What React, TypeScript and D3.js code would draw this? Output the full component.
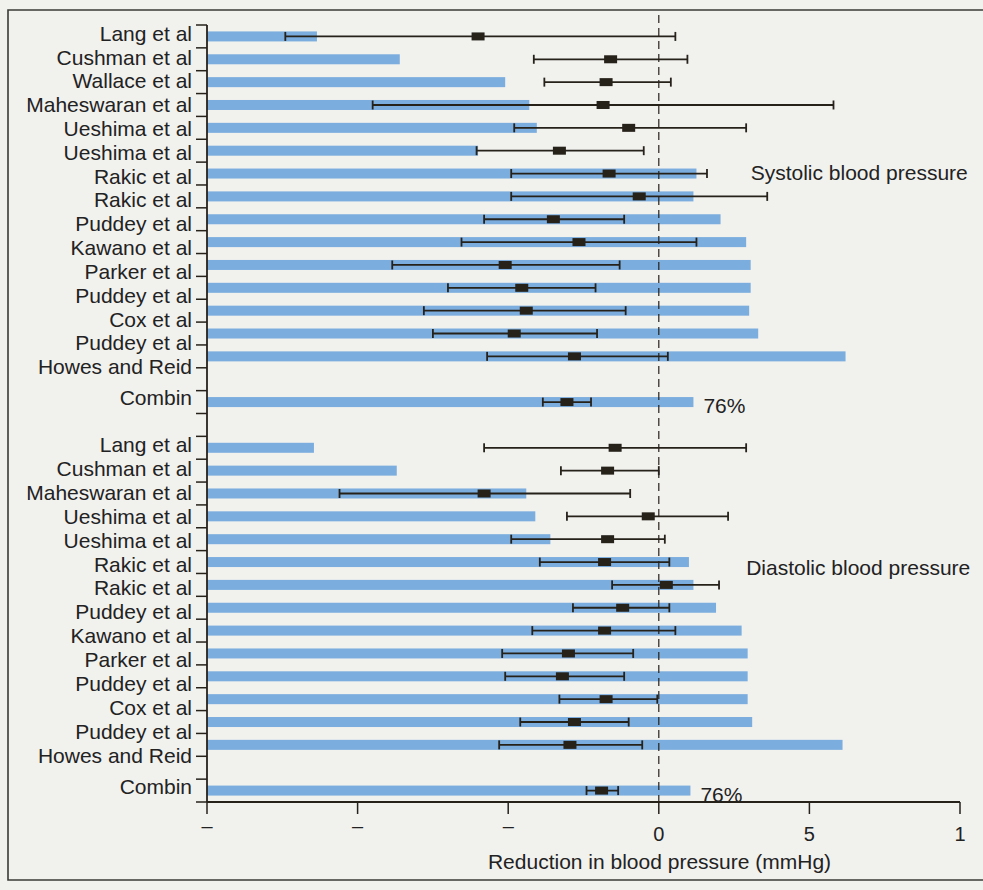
import React from "react";
import * as d3 from "d3";

// Study names per panel (the pooled estimate is appended as its own row)
const systolicStudies = [
  "Lang et al", "Cushman et al", "Wallace et al", "Maheswaran et al", "Ueshima et al",
  "Ueshima et al", "Rakic et al", "Rakic et al", "Puddey et al", "Kawano et al",
  "Parker et al", "Puddey et al", "Cox et al", "Puddey et al", "Howes and Reid",
];
const diastolicStudies = [
  "Lang et al", "Cushman et al", "Maheswaran et al", "Ueshima et al", "Ueshima et al",
  "Rakic et al", "Rakic et al", "Puddey et al", "Kawano et al", "Parker et al",
  "Puddey et al", "Cox et al", "Puddey et al", "Howes and Reid",
];
const combinedLabel = "Combin";
const combinedShare = "76%";

// Systolic: studies followed by the pooled row (mmHg)
const systolicLow = [-12.4, -4.15, -3.8, -9.5, -4.8, -6.05, -4.9, -4.9, -5.8, -6.55, -8.85, -7.0, -7.8, -7.5, -5.7, -3.85];
const systolicEst = [-6.0, -1.6, -1.75, -1.85, -1.0, -3.3, -1.65, -0.65, -3.5, -2.65, -5.1, -4.55, -4.4, -4.8, -2.8, -3.05];
const systolicHigh = [0.55, 0.95, 0.4, 5.8, 2.9, -0.5, 1.6, 3.6, -1.15, 1.25, -1.3, -2.1, -1.1, -2.05, 0.3, -2.25];
const systolicBar = [-11.35, -8.6, -5.1, -4.3, -4.05, -6.0, 1.25, 1.15, 2.05, 2.9, 3.05, 3.05, 3.0, 3.3, 6.2, 1.15];

// Diastolic: studies followed by the pooled row (mmHg)
const diastolicLow = [-5.8, -3.25, -10.6, -3.05, -4.9, -3.95, -1.55, -2.85, -4.2, -5.2, -5.1, -3.3, -4.6, -5.3, -2.4];
const diastolicEst = [-1.45, -1.7, -5.8, -0.35, -1.7, -1.8, 0.25, -1.2, -1.8, -3.0, -3.2, -1.75, -2.8, -2.95, -1.9];
const diastolicHigh = [2.9, 0.0, -0.95, 2.3, 0.2, 0.35, 2.0, 0.35, 0.55, -0.85, -1.15, -0.05, -1.0, -0.55, -1.35];
const diastolicBar = [-11.45, -8.7, -4.4, -4.1, -3.6, 1.0, 1.15, 1.9, 2.75, 2.95, 2.95, 2.95, 3.1, 6.1, 1.05];

const tickValues = [-15, -10, -5, 0, 5, 10];
const tickLabels = ["–", "–", "–", "0", "5", "1"];
const axisTitle = "Reduction in blood pressure (mmHg)";
const panelTitles = ["Systolic blood pressure", "Diastolic blood pressure"];

const W = 983;
const H = 890;
const FONT = "'Liberation Sans', Arial, Helvetica, sans-serif";
const BLUE = "#7badde";
const INK = "#26221a";

type Row = { name: string; slot: number; low: number; est: number; high: number; bar: number; pooled: boolean; idx: number; n: number };

function buildRows(names: string[], low: number[], est: number[], high: number[], bar: number[], firstSlot: number): Row[] {
  const n = names.length;
  const rows: Row[] = names.map((name, i) => ({
    name, slot: firstSlot + i, low: low[i], est: est[i], high: high[i], bar: bar[i], pooled: false, idx: i, n,
  }));
  rows.push({
    name: combinedLabel, slot: firstSlot + n + 1, low: low[n], est: est[n], high: high[n], bar: bar[n], pooled: true, idx: n, n,
  });
  return rows;
}

export default function App() {
  const x = d3.scaleLinear().domain([-15, 10]).range([207, 960]);
  const slots = d3.range(34);
  const y = d3.scaleBand<number>().domain(slots).range([25, 802]);
  const step = y.step();
  const cy = (s: number) => (y(s) ?? 0) + step / 2;

  const sys = buildRows(systolicStudies, systolicLow, systolicEst, systolicHigh, systolicBar, 0);
  const dia = buildRows(diastolicStudies, diastolicLow, diastolicEst, diastolicHigh, diastolicBar, 18);
  const rows = [...sys, ...dia];

  // labels sit slightly off the row centres, drifting downward through each block
  const drift = (r: Row) =>
    r.pooled ? -4 : d3.scaleLinear().domain([0, r.n - 1]).range([-3, 10.5])(r.idx);

  const x0 = x(-15);
  const axisY = 802;
  const barH = 10;
  const capH = 9;
  const mW = 13;
  const mH = 8;

  return (
    <div style={{ position: "absolute", left: 0, top: 0 }}>
      <svg width={W} height={H} style={{ display: "block", fontFamily: FONT }}>
        <rect x={0} y={0} width={W} height={H} fill="#f1f1ee" />
        {/* page frame */}
        <path d={`M${W},10 L8,10 L8,880 L${W},880`} fill="none" stroke="#3a3a36" strokeWidth={1.6} />

        {/* blue bars */}
        {rows.map((r, i) => (
          <rect key={"b" + i} x={x0} y={cy(r.slot) - barH / 2} width={x(r.bar) - x0} height={barH} fill={BLUE} />
        ))}

        {/* line of no effect */}
        <line x1={x(0)} x2={x(0)} y1={15} y2={808} stroke={INK} strokeWidth={1.2} strokeDasharray="8,5" />

        {/* confidence intervals and point estimates */}
        {rows.map((r, i) => {
          const c = cy(r.slot);
          return (
            <g key={"ci" + i} stroke={INK} strokeWidth={1.8}>
              <line x1={x(r.low)} x2={x(r.high)} y1={c} y2={c} />
              <line x1={x(r.low)} x2={x(r.low)} y1={c - capH / 2} y2={c + capH / 2} />
              <line x1={x(r.high)} x2={x(r.high)} y1={c - capH / 2} y2={c + capH / 2} />
              <rect x={x(r.est) - mW / 2} y={c - mH / 2} width={mW} height={mH} fill={INK} stroke="none" />
            </g>
          );
        })}

        {/* left spine with row ticks */}
        <line x1={x0} x2={x0} y1={25} y2={axisY} stroke={INK} strokeWidth={1.8} />
        {d3.range(35).map((k) => {
          const ty = 25 + k * step;
          return <line key={"yt" + k} x1={x0 - 11} x2={x0} y1={ty} y2={ty} stroke={INK} strokeWidth={1.5} />;
        })}

        {/* x axis */}
        <line x1={x0} x2={x(10)} y1={axisY} y2={axisY} stroke={INK} strokeWidth={1.8} />
        {tickValues.map((v, i) => {
          const isDigit = /\d/.test(tickLabels[i]);
          return (
            <g key={"xt" + i}>
              <line x1={x(v)} x2={x(v)} y1={axisY} y2={axisY + 12} stroke={INK} strokeWidth={1.5} />
              <text x={x(v)} y={isDigit ? 841 : 833} textAnchor="middle" fontSize={20} fill="#222">
                {tickLabels[i]}
              </text>
            </g>
          );
        })}
        <text x={(x(-15) + x(10)) / 2 + 76} y={869} textAnchor="middle" fontSize={21} fill="#222">
          {axisTitle}
        </text>

        {/* study labels */}
        {rows.map((r, i) => (
          <text key={"l" + i} x={192} y={cy(r.slot) + drift(r)} dy="0.35em" textAnchor="end" fontSize={21} fill="#222">
            {r.name}
          </text>
        ))}

        {/* pooled share */}
        {[sys[sys.length - 1], dia[dia.length - 1]].map((r, i) => (
          <text key={"p" + i} x={x(r.bar) + 10} y={cy(r.slot) + 4} dy="0.35em" fontSize={21} fill="#222">
            {combinedShare}
          </text>
        ))}

        {/* panel titles */}
        <text x={x(3.05)} y={cy(6) - 1} dy="0.35em" fontSize={21} fill="#222">
          {panelTitles[0]}
        </text>
        <text x={x(2.9)} y={cy(23) + 6} dy="0.35em" fontSize={21} fill="#222">
          {panelTitles[1]}
        </text>
      </svg>
    </div>
  );
}
